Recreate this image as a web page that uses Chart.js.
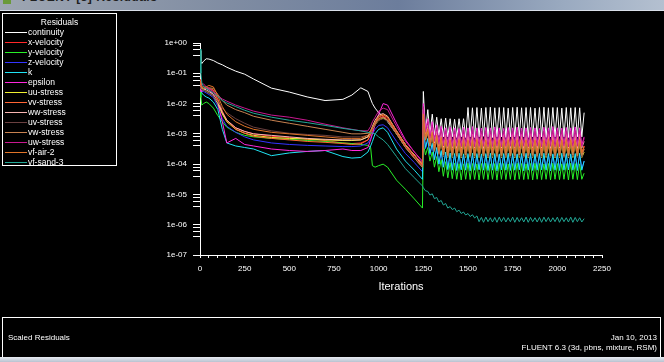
<!DOCTYPE html>
<html>
<head>
<meta charset="utf-8">
<script src="https://cdn.jsdelivr.net/npm/chart.js@4/dist/chart.umd.min.js"></script>
<style>
html,body{margin:0;padding:0;background:#000;width:664px;height:362px;overflow:hidden;font-family:"Liberation Sans",Arial,sans-serif;}
#wrap{position:relative;width:664px;height:362px;background:#000;}
#c{position:absolute;left:0;top:0;}
#titlebar{position:absolute;left:0;top:0;width:664px;height:10px;overflow:hidden;background:linear-gradient(to right,#9ea6b2 0%,#7f8ca2 35%,#6c7d9c 60%,#9aaac0 85%,#b4c0d0 100%);}
#titlebar .t{position:absolute;left:22px;top:-10px;font-size:12px;font-weight:bold;color:#202020;letter-spacing:0.5px;white-space:nowrap;}
#titlebar .ic{position:absolute;left:3px;top:0;width:8px;height:4px;background:#6a9a3a;}
#tbline{position:absolute;left:0;top:10px;width:664px;height:1px;background:#d8dee8;}
#legend{position:absolute;left:2px;top:13px;width:115px;height:153px;box-sizing:border-box;border:1px solid #fff;color:#fff;font-size:8.5px;}
#legend .ttl{position:absolute;left:0;width:113px;top:3px;text-align:center;}
#legend .it{position:absolute;left:2px;height:10px;line-height:10px;white-space:nowrap;}
#legend .it span.ln{display:inline-block;width:22px;height:1px;vertical-align:middle;margin-right:1px;}
#bottom{position:absolute;left:2px;top:317px;width:659px;height:40px;box-sizing:border-box;border:1px solid #fff;border-bottom:none;color:#fff;font-size:8px;}
#bottom .l{position:absolute;left:5px;top:15px;}
#bottom .r1{position:absolute;right:3px;top:15px;}
#bottom .r2{position:absolute;right:3px;top:25px;}
#bstrip{position:absolute;left:0;top:357px;width:664px;height:5px;background:linear-gradient(to bottom,#e8ecf2,#b8c2d0);}
</style>
</head>
<body>
<div id="wrap">
<canvas id="c" width="664" height="362"></canvas>
<div id="titlebar"><div class="ic"></div><div class="t">FLUENT [3] Residuals</div></div>
<div id="tbline"></div>
<div id="legend"><div class="ttl">Residuals</div></div>
<div id="bottom"><div class="l">Scaled Residuals</div><div class="r1">Jan 10, 2013</div><div class="r2">FLUENT 6.3 (3d, pbns, mixture, RSM)</div></div>
<div id="bstrip"></div>
</div>
<script>
// ---- data: log10 of scaled residual ----
const seriesNames = ['continuity','x-velocity','y-velocity','z-velocity','k','epsilon','uu-stress','vv-stress','ww-stress','uv-stress','vw-stress','uw-stress','vf-air-2','vf-sand-3'];
const seriesColors = ['#ffffff','#ff2828','#28f028','#3434ff','#20e4f4','#ff28dc','#f0f030','#ff6434','#f8b4b0','#6a4040','#c88250','#c81890','#e07428','#22a896'];

const preIterations = [0,5,10,20,35,50,75,100,125,150,200,250,300,400,500,600,700,800,850,900,940,955,965,980,1000,1025,1050,1100,1150,1200,1245];

const continuityPre = [-0.25,-0.6,-0.68,-0.6,-0.52,-0.53,-0.58,-0.66,-0.72,-0.8,-0.93,-1.03,-1.19,-1.49,-1.62,-1.78,-1.9,-1.86,-1.72,-1.48,-1.6,-1.85,-2.0,-2.15,-2.3,-2.42,-2.6,-3.0,-3.38,-3.7,-4.05];
const xVelocityPre  = [-1.2,-1.35,-1.45,-1.5,-1.5,-1.52,-1.6,-1.9,-2.3,-2.55,-2.8,-2.92,-3.0,-3.08,-3.12,-3.18,-3.22,-3.3,-3.32,-3.3,-3.2,-3.05,-2.9,-2.7,-2.5,-2.42,-2.5,-2.95,-3.4,-3.75,-4.05];
const yVelocityPre  = [-1.4,-1.8,-2.05,-2.0,-1.95,-2.0,-2.15,-2.4,-2.6,-2.78,-2.95,-3.05,-3.1,-3.15,-3.18,-3.22,-3.25,-3.3,-3.32,-3.35,-3.38,-3.45,-4.05,-4.1,-4.05,-4.0,-4.1,-4.53,-4.83,-5.15,-5.45];
const zVelocityPre  = [-1.3,-1.5,-1.6,-1.6,-1.65,-1.7,-1.8,-2.1,-2.5,-2.75,-2.95,-3.1,-3.2,-3.3,-3.35,-3.38,-3.4,-3.42,-3.42,-3.4,-3.3,-3.15,-3.0,-2.85,-2.72,-2.7,-2.8,-3.25,-3.65,-3.95,-4.25];
const kPre          = [-1.3,-1.5,-1.65,-1.72,-1.78,-1.82,-1.95,-2.2,-2.85,-3.3,-3.4,-3.45,-3.5,-3.72,-3.63,-3.58,-3.55,-3.75,-3.8,-3.78,-3.6,-3.4,-3.25,-3.0,-2.85,-2.8,-2.95,-3.5,-3.9,-4.2,-4.5];
const epsilonPre    = [-1.5,-1.6,-1.6,-1.55,-1.5,-1.55,-1.7,-2.0,-2.6,-3.3,-3.15,-3.35,-3.4,-3.5,-3.55,-3.58,-3.55,-3.5,-3.55,-3.55,-3.45,-3.2,-3.0,-2.7,-2.35,-2.0,-2.05,-2.65,-3.2,-3.6,-3.9];
const uuStressPre   = [-1.3,-1.45,-1.5,-1.55,-1.6,-1.65,-1.75,-2.0,-2.35,-2.6,-2.85,-2.98,-3.05,-3.12,-3.15,-3.17,-3.2,-3.22,-3.22,-3.2,-3.1,-2.95,-2.85,-2.7,-2.55,-2.48,-2.55,-3.0,-3.45,-3.8,-4.1];
const vvStressPre   = [-1.25,-1.4,-1.45,-1.45,-1.45,-1.5,-1.55,-1.85,-2.25,-2.55,-2.85,-2.98,-3.08,-3.15,-3.2,-3.25,-3.28,-3.32,-3.35,-3.33,-3.2,-3.0,-2.85,-2.65,-2.45,-2.38,-2.45,-2.9,-3.35,-3.7,-4.0];
const wwStressPre   = [-1.3,-1.45,-1.5,-1.5,-1.55,-1.6,-1.7,-1.95,-2.3,-2.55,-2.8,-2.92,-3.0,-3.05,-3.1,-3.15,-3.18,-3.2,-3.2,-3.2,-3.1,-2.9,-2.75,-2.55,-2.38,-2.33,-2.42,-2.9,-3.35,-3.7,-4.0];
const uvStressPre   = [-1.4,-1.5,-1.55,-1.55,-1.6,-1.65,-1.75,-1.95,-2.15,-2.3,-2.5,-2.65,-2.78,-2.9,-2.98,-3.02,-3.05,-3.1,-3.1,-3.1,-3.05,-2.95,-2.85,-2.7,-2.55,-2.5,-2.58,-3.0,-3.45,-3.8,-4.1];
const vwStressPre   = [-1.35,-1.45,-1.5,-1.5,-1.5,-1.48,-1.5,-1.7,-1.9,-2.05,-2.2,-2.3,-2.42,-2.55,-2.65,-2.75,-2.85,-2.95,-3.0,-3.0,-2.98,-2.9,-2.8,-2.65,-2.5,-2.45,-2.55,-3.0,-3.45,-3.8,-4.1];
const uwStressPre   = [-1.3,-1.4,-1.4,-1.35,-1.45,-1.5,-1.6,-1.75,-1.85,-1.92,-2.05,-2.15,-2.25,-2.38,-2.45,-2.55,-2.68,-2.8,-2.85,-2.9,-2.9,-2.75,-2.6,-2.45,-2.25,-2.15,-2.2,-2.75,-3.25,-3.6,-3.95];
const vfAir2Pre     = [-1.3,-1.4,-1.45,-1.5,-1.45,-1.4,-1.45,-1.75,-2.1,-2.35,-2.6,-2.75,-2.85,-2.95,-3.0,-3.05,-3.1,-3.15,-3.15,-3.15,-3.05,-2.9,-2.8,-2.6,-2.42,-2.36,-2.45,-2.9,-3.35,-3.7,-4.0];
const vfSand3Pre    = [-0.2,-1.0,-1.3,-1.45,-1.5,-1.55,-1.65,-1.77,-1.9,-1.98,-2.1,-2.22,-2.32,-2.45,-2.55,-2.63,-2.72,-2.82,-2.86,-2.9,-2.95,-2.97,-2.98,-3.0,-3.1,-3.2,-3.35,-3.75,-4.15,-4.45,-4.72];

const tailIterations = [1250,
 1262,1275,1287,1300,1312,1325,1337,1350,1362,1375,1387,1400,
 1412,1425,1437,1450,1462,1475,1487,1500,1512,1525,1537,1550,
 1562,1575,1587,1600,1612,1625,1637,1650,1662,1675,1687,1700,
 1712,1725,1737,1750,1762,1775,1787,1800,1812,1825,1837,1850,
 1862,1875,1887,1900,1912,1925,1937,1950,1962,1975,1987,2000,
 2012,2025,2037,2050,2062,2075,2087,2100,2112,2125,2137,2150];

const continuityTail = [-1.6,
 -2.95,-2.2,-3.0,-2.35,-3.05,-2.45,-3.05,-2.5,-3.1,-2.48,-3.1,-2.5,
 -3.1,-2.52,-3.12,-2.5,-3.1,-2.5,-3.12,-2.13,-3.1,-2.14,-3.12,-2.13,
 -3.1,-2.15,-3.08,-2.13,-3.1,-2.12,-3.12,-2.14,-3.1,-2.13,-3.1,-2.13,
 -3.12,-2.15,-3.1,-2.13,-3.1,-2.12,-3.08,-2.14,-3.1,-2.13,-3.12,-2.13,
 -3.1,-2.15,-3.1,-2.13,-3.1,-2.12,-3.12,-2.14,-3.1,-2.13,-3.1,-2.13,
 -3.08,-2.15,-3.1,-2.13,-3.12,-2.14,-3.1,-2.13,-3.1,-2.14,-3.1,-2.3];
const xVelocityTail = [-2.4,
 -3.15,-2.85,-3.35,-2.95,-3.5,-3.05,-3.6,-3.1,-3.65,-3.15,-3.67,-3.15,
 -3.66,-3.14,-3.68,-3.16,-3.67,-3.15,-3.65,-3.13,-3.68,-3.16,-3.66,-3.15,
 -3.67,-3.14,-3.68,-3.16,-3.66,-3.15,-3.67,-3.13,-3.68,-3.15,-3.66,-3.16,
 -3.67,-3.15,-3.66,-3.14,-3.68,-3.16,-3.67,-3.15,-3.66,-3.13,-3.68,-3.15,
 -3.67,-3.16,-3.66,-3.15,-3.68,-3.14,-3.67,-3.15,-3.66,-3.16,-3.68,-3.15,
 -3.67,-3.14,-3.66,-3.15,-3.68,-3.16,-3.67,-3.15,-3.66,-3.14,-3.67,-3.4];
const yVelocityTail = [-3.3,
 -3.7,-3.45,-3.9,-3.6,-4.1,-3.75,-4.25,-3.85,-4.4,-3.92,-4.45,-3.95,
 -4.48,-3.97,-4.5,-3.98,-4.52,-3.99,-4.5,-3.97,-4.51,-3.98,-4.5,-3.99,
 -4.52,-3.98,-4.5,-3.97,-4.51,-3.99,-4.5,-3.98,-4.52,-3.97,-4.5,-3.98,
 -4.51,-3.99,-4.5,-3.98,-4.52,-3.97,-4.5,-3.98,-4.51,-3.99,-4.5,-3.98,
 -4.52,-3.97,-4.5,-3.98,-4.51,-3.99,-4.5,-3.98,-4.52,-3.97,-4.5,-3.98,
 -4.51,-3.99,-4.5,-3.98,-4.52,-3.97,-4.5,-3.98,-4.51,-3.99,-4.5,-4.3];
const zVelocityTail = [-2.8,
 -3.5,-3.2,-3.7,-3.35,-3.85,-3.5,-4.0,-3.6,-4.1,-3.65,-4.13,-3.7,
 -4.15,-3.7,-4.14,-3.71,-4.16,-3.69,-4.15,-3.7,-4.14,-3.72,-4.15,-3.7,
 -4.16,-3.71,-4.15,-3.69,-4.14,-3.7,-4.15,-3.71,-4.16,-3.7,-4.15,-3.69,
 -4.14,-3.7,-4.15,-3.72,-4.16,-3.7,-4.15,-3.71,-4.14,-3.69,-4.15,-3.7,
 -4.16,-3.71,-4.15,-3.7,-4.14,-3.72,-4.15,-3.7,-4.16,-3.69,-4.15,-3.7,
 -4.14,-3.71,-4.15,-3.7,-4.16,-3.7,-4.15,-3.72,-4.14,-3.7,-4.15,-3.9];
const kTail = [-2.7,
 -3.45,-3.15,-3.65,-3.3,-3.85,-3.45,-4.0,-3.55,-4.1,-3.6,-4.18,-3.63,
 -4.2,-3.65,-4.21,-3.64,-4.19,-3.66,-4.2,-3.65,-4.22,-3.64,-4.2,-3.65,
 -4.19,-3.66,-4.2,-3.65,-4.21,-3.64,-4.2,-3.65,-4.22,-3.66,-4.19,-3.65,
 -4.2,-3.64,-4.21,-3.65,-4.2,-3.66,-4.19,-3.65,-4.22,-3.64,-4.2,-3.65,
 -4.21,-3.66,-4.2,-3.65,-4.19,-3.64,-4.2,-3.65,-4.22,-3.66,-4.2,-3.65,
 -4.21,-3.64,-4.2,-3.65,-4.19,-3.66,-4.2,-3.65,-4.21,-3.64,-4.2,-3.9];
const epsilonTail = [-2.0,
 -2.9,-2.5,-3.1,-2.6,-3.2,-2.7,-3.3,-2.75,-3.35,-2.8,-3.35,-2.78,
 -3.38,-2.8,-3.35,-2.82,-3.4,-2.78,-3.36,-2.8,-3.38,-2.76,-3.35,-2.8,
 -3.37,-2.81,-3.39,-2.79,-3.36,-2.8,-3.38,-2.77,-3.35,-2.8,-3.4,-2.82,
 -3.36,-2.79,-3.38,-2.8,-3.35,-2.78,-3.37,-2.81,-3.39,-2.8,-3.36,-2.79,
 -3.38,-2.8,-3.35,-2.82,-3.4,-2.78,-3.36,-2.8,-3.38,-2.76,-3.35,-2.8,
 -3.37,-2.81,-3.39,-2.79,-3.36,-2.8,-3.38,-2.77,-3.35,-2.8,-3.37,-3.1];
const uuStressTail = [-2.5,
 -3.2,-2.95,-3.4,-3.05,-3.55,-3.15,-3.65,-3.25,-3.75,-3.3,-3.78,-3.35,
 -3.78,-3.34,-3.77,-3.36,-3.79,-3.35,-3.78,-3.34,-3.77,-3.35,-3.79,-3.36,
 -3.78,-3.35,-3.77,-3.34,-3.79,-3.35,-3.78,-3.36,-3.77,-3.35,-3.79,-3.34,
 -3.78,-3.35,-3.77,-3.36,-3.79,-3.35,-3.78,-3.34,-3.77,-3.35,-3.79,-3.36,
 -3.78,-3.35,-3.77,-3.34,-3.79,-3.35,-3.78,-3.36,-3.77,-3.35,-3.79,-3.34,
 -3.78,-3.35,-3.77,-3.36,-3.79,-3.35,-3.78,-3.34,-3.77,-3.35,-3.78,-3.6];
const vvStressTail = [-2.3,
 -3.1,-2.8,-3.3,-2.9,-3.45,-3.0,-3.55,-3.05,-3.6,-3.1,-3.62,-3.1,
 -3.61,-3.11,-3.63,-3.09,-3.62,-3.1,-3.6,-3.11,-3.63,-3.1,-3.62,-3.09,
 -3.61,-3.1,-3.63,-3.11,-3.62,-3.1,-3.6,-3.09,-3.63,-3.1,-3.62,-3.11,
 -3.61,-3.1,-3.63,-3.09,-3.62,-3.1,-3.6,-3.11,-3.63,-3.1,-3.62,-3.09,
 -3.61,-3.1,-3.63,-3.11,-3.62,-3.1,-3.6,-3.09,-3.63,-3.1,-3.62,-3.11,
 -3.61,-3.1,-3.63,-3.09,-3.62,-3.1,-3.6,-3.11,-3.63,-3.1,-3.62,-3.4];
const wwStressTail = [-2.2,
 -3.0,-2.7,-3.2,-2.8,-3.3,-2.9,-3.4,-2.95,-3.45,-3.0,-3.47,-3.0,
 -3.46,-3.01,-3.48,-2.99,-3.47,-3.0,-3.45,-3.01,-3.48,-3.0,-3.47,-2.99,
 -3.46,-3.0,-3.48,-3.01,-3.47,-3.0,-3.45,-2.99,-3.48,-3.0,-3.47,-3.01,
 -3.46,-3.0,-3.48,-2.99,-3.47,-3.0,-3.45,-3.01,-3.48,-3.0,-3.47,-2.99,
 -3.46,-3.0,-3.48,-3.01,-3.47,-3.0,-3.45,-2.99,-3.48,-3.0,-3.47,-3.01,
 -3.46,-3.0,-3.48,-2.99,-3.47,-3.0,-3.45,-3.01,-3.48,-3.0,-3.47,-3.25];
const uvStressTail = [-2.6,
 -3.25,-3.0,-3.45,-3.1,-3.6,-3.2,-3.7,-3.25,-3.75,-3.3,-3.77,-3.3,
 -3.76,-3.31,-3.78,-3.29,-3.77,-3.3,-3.75,-3.31,-3.78,-3.3,-3.77,-3.29,
 -3.76,-3.3,-3.78,-3.31,-3.77,-3.3,-3.75,-3.29,-3.78,-3.3,-3.77,-3.31,
 -3.76,-3.3,-3.78,-3.29,-3.77,-3.3,-3.75,-3.31,-3.78,-3.3,-3.77,-3.29,
 -3.76,-3.3,-3.78,-3.31,-3.77,-3.3,-3.75,-3.29,-3.78,-3.3,-3.77,-3.31,
 -3.76,-3.3,-3.78,-3.29,-3.77,-3.3,-3.75,-3.31,-3.78,-3.3,-3.77,-3.5];
const vwStressTail = [-2.5,
 -3.2,-2.95,-3.4,-3.05,-3.55,-3.15,-3.65,-3.2,-3.7,-3.25,-3.72,-3.25,
 -3.71,-3.26,-3.73,-3.24,-3.72,-3.25,-3.7,-3.26,-3.73,-3.25,-3.72,-3.24,
 -3.71,-3.25,-3.73,-3.26,-3.72,-3.25,-3.7,-3.24,-3.73,-3.25,-3.72,-3.26,
 -3.71,-3.25,-3.73,-3.24,-3.72,-3.25,-3.7,-3.26,-3.73,-3.25,-3.72,-3.24,
 -3.71,-3.25,-3.73,-3.26,-3.72,-3.25,-3.7,-3.24,-3.73,-3.25,-3.72,-3.26,
 -3.71,-3.25,-3.73,-3.24,-3.72,-3.25,-3.7,-3.26,-3.73,-3.25,-3.72,-3.5];
const uwStressTail = [-2.1,
 -2.95,-2.6,-3.15,-2.7,-3.25,-2.8,-3.35,-2.85,-3.4,-2.9,-3.42,-2.88,
 -3.42,-2.9,-3.41,-2.91,-3.43,-2.89,-3.42,-2.9,-3.41,-2.88,-3.43,-2.9,
 -3.42,-2.91,-3.41,-2.89,-3.43,-2.9,-3.42,-2.88,-3.41,-2.9,-3.43,-2.91,
 -3.42,-2.89,-3.41,-2.9,-3.43,-2.88,-3.42,-2.9,-3.41,-2.91,-3.43,-2.89,
 -3.42,-2.9,-3.41,-2.88,-3.43,-2.9,-3.42,-2.91,-3.41,-2.89,-3.43,-2.9,
 -3.42,-2.88,-3.41,-2.9,-3.43,-2.91,-3.42,-2.89,-3.41,-2.9,-3.42,-3.15];
const vfAir2Tail = [-2.35,
 -3.1,-2.85,-3.3,-2.95,-3.45,-3.05,-3.55,-3.12,-3.6,-3.18,-3.62,-3.2,
 -3.61,-3.21,-3.63,-3.19,-3.62,-3.2,-3.6,-3.21,-3.63,-3.2,-3.62,-3.19,
 -3.61,-3.2,-3.63,-3.21,-3.62,-3.2,-3.6,-3.19,-3.63,-3.2,-3.62,-3.21,
 -3.61,-3.2,-3.63,-3.19,-3.62,-3.2,-3.6,-3.21,-3.63,-3.2,-3.62,-3.19,
 -3.61,-3.2,-3.63,-3.21,-3.62,-3.2,-3.6,-3.19,-3.63,-3.2,-3.62,-3.21,
 -3.61,-3.2,-3.63,-3.19,-3.62,-3.2,-3.6,-3.21,-3.63,-3.2,-3.62,-3.45];
const vfSand3Tail = [-4.78,
 -4.88,-4.9,-5.02,-4.98,-5.14,-5.1,-5.25,-5.2,-5.35,-5.3,-5.45,-5.4,
 -5.5,-5.45,-5.57,-5.52,-5.63,-5.58,-5.68,-5.63,-5.73,-5.67,-5.78,-5.71,
 -5.9,-5.76,-5.92,-5.75,-5.9,-5.77,-5.91,-5.76,-5.92,-5.75,-5.9,-5.76,
 -5.91,-5.77,-5.9,-5.75,-5.92,-5.76,-5.9,-5.77,-5.91,-5.75,-5.92,-5.76,
 -5.9,-5.77,-5.91,-5.76,-5.92,-5.75,-5.9,-5.76,-5.91,-5.77,-5.9,-5.75,
 -5.92,-5.76,-5.9,-5.77,-5.91,-5.75,-5.92,-5.76,-5.9,-5.77,-5.91,-5.8];

const xTickValues = [0,250,500,750,1000,1250,1500,1750,2000,2250];
const xTickLabels = ['0','250','500','750','1000','1250','1500','1750','2000','2250'];
const yTickValues = [1,1e-1,1e-2,1e-3,1e-4,1e-5,1e-6,1e-7];
const yTickLabels = ['1e+00','1e-01','1e-02','1e-03','1e-04','1e-05','1e-06','1e-07'];
const yMinorFactors = [0.8,0.6,0.4];

const preSeries = [continuityPre,xVelocityPre,yVelocityPre,zVelocityPre,kPre,epsilonPre,uuStressPre,vvStressPre,wwStressPre,uvStressPre,vwStressPre,uwStressPre,vfAir2Pre,vfSand3Pre];
const tailSeries = [continuityTail,xVelocityTail,yVelocityTail,zVelocityTail,kTail,epsilonTail,uuStressTail,vvStressTail,wwStressTail,uvStressTail,vwStressTail,uwStressTail,vfAir2Tail,vfSand3Tail];

// ---- legend (HTML) ----
const leg = document.getElementById('legend');
seriesNames.forEach((n,i)=>{
  const d = document.createElement('div');
  d.className='it'; d.style.top = (13 + i*10) + 'px';
  d.innerHTML = '<span class="ln" style="background:'+seriesColors[i]+'"></span>'+n;
  leg.appendChild(d);
});

// ---- chart ----
function buildPoints(pre, tail){
  const pts = [];
  preIterations.forEach((x,j)=>{ if (pre[j] !== undefined) pts.push({x:x, y:Math.pow(10, pre[j])}); });
  tailIterations.forEach((x,j)=>{ if (tail[j] !== undefined) pts.push({x:x, y:Math.pow(10, tail[j])}); });
  return pts;
}
const datasets = seriesNames.map((n,i)=>({
  label:n,
  data: buildPoints(preSeries[i], tailSeries[i]),
  borderColor: seriesColors[i],
  backgroundColor: seriesColors[i],
  borderWidth: 1,
  pointRadius: 0,
  tension: 0,
  fill: false,
  order: seriesNames.length - i
}));

const yAllTicks = [];
yTickValues.forEach(v=>{
  yAllTicks.push(v);
  if (v > 1e-7) yMinorFactors.forEach(f=>yAllTicks.push(v*f));
});

const tickFont = {family:'"Liberation Sans", Arial, sans-serif', size:8};
new Chart(document.getElementById('c'), {
  type:'line',
  data:{datasets},
  options:{
    responsive:false,
    animation:false,
    devicePixelRatio:1,
    layout:{padding:{left:0,top:43,right:62,bottom:62}},
    plugins:{legend:{display:false},tooltip:{enabled:false},title:{display:false}},
    scales:{
      x:{
        type:'linear', min:0, max:2250,
        afterFit:(s)=>{s.height=45;},
        ticks:{stepSize:50, autoSkip:false, maxRotation:0, color:'#ffffff', font:tickFont, padding:6,
          callback:(v)=>{const i = xTickValues.indexOf(v); return i>=0 ? xTickLabels[i] : '';}},
        grid:{display:true, drawOnChartArea:false, drawTicks:true, tickLength:3, color:'#ffffff', tickColor:'#ffffff'},
        border:{display:true, color:'#ffffff', width:1},
        title:{display:true, text:'Iterations', color:'#ffffff', font:{family:'"Liberation Sans", Arial, sans-serif', size:11}, padding:{top:0,bottom:6}}
      },
      y:{
        type:'logarithmic', min:1e-7, max:1,
        afterFit:(s)=>{s.width=200;},
        afterBuildTicks:(s)=>{s.ticks = yAllTicks.map(v=>({value:v}));},
        ticks:{autoSkip:false, color:'#ffffff', font:tickFont, padding:6,
          callback:(v)=>{const i = yTickValues.findIndex(t=>Math.abs(Math.log10(t)-Math.log10(v))<1e-6); return i>=0 ? yTickLabels[i] : '';}},
        grid:{display:true, drawOnChartArea:false, drawTicks:true, tickLength:7, color:'#ffffff', tickColor:'#ffffff'},
        border:{display:true, color:'#ffffff', width:1}
      }
    }
  }
});
</script>
</body>
</html>
